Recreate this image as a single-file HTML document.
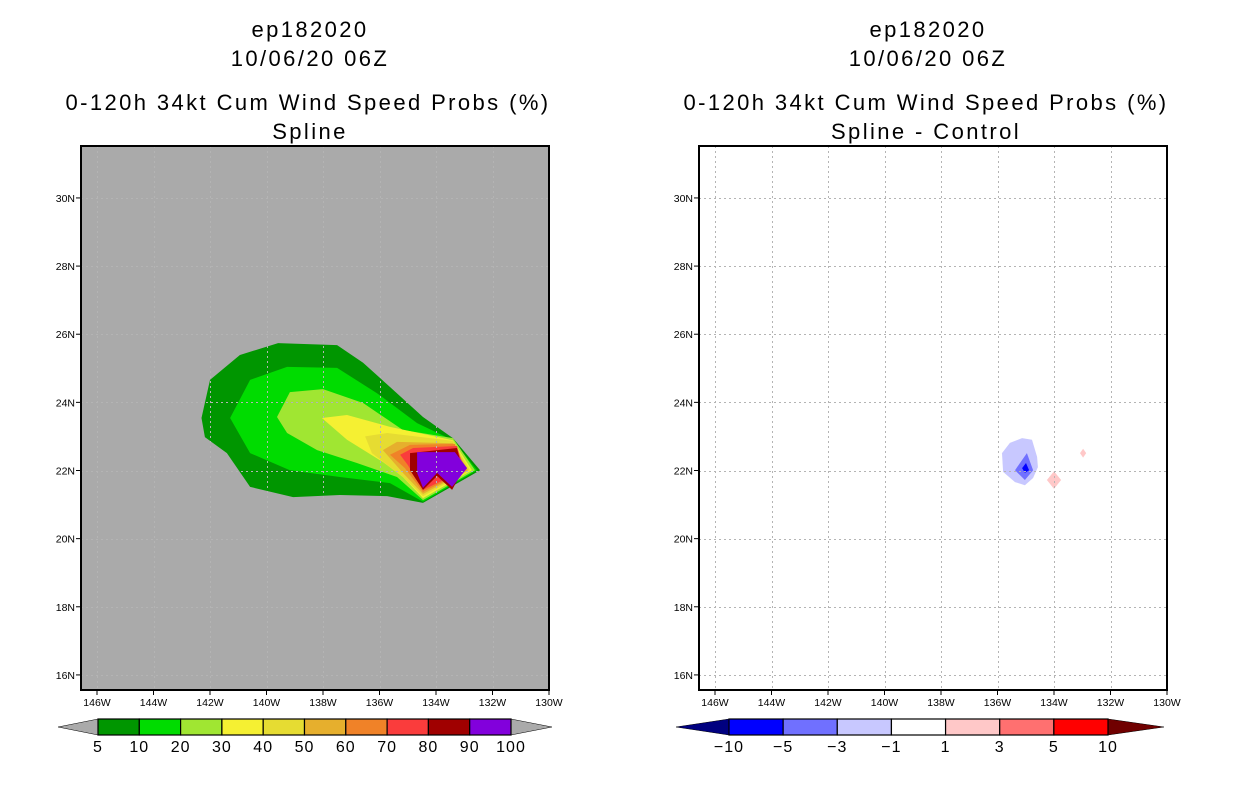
<!DOCTYPE html>
<html><head><meta charset="utf-8">
<style>
html,body{margin:0;padding:0;background:#fff;}
svg{display:block;font-family:"Liberation Sans",sans-serif;}
.t{font-size:22px;text-anchor:middle;fill:#000;letter-spacing:2.4px;}
.tk{font-size:10.5px;fill:#000;}
.cb{font-size:16px;text-anchor:middle;fill:#000;letter-spacing:1px;}
</style></head>
<body>
<svg id="s" width="1236" height="800" viewBox="0 0 1236 800">
<g>
<text class="t" x="310" y="37">ep182020</text>
<text class="t" x="310" y="66">10/06/20 06Z</text>
<text class="t" x="308" y="110">0-120h 34kt Cum Wind Speed Probs (%)</text>
<text class="t" x="310" y="139">Spline</text>
</g>
<g>
<text class="t" x="928" y="37">ep182020</text>
<text class="t" x="928" y="66">10/06/20 06Z</text>
<text class="t" x="926" y="110">0-120h 34kt Cum Wind Speed Probs (%)</text>
<text class="t" x="926" y="139">Spline - Control</text>
</g>
<g id="L"></g>
<g id="R"></g>
<g id="CBL"></g>
<g id="CBR"></g>
</svg>
<script>
const lonTicks=[-146,-144,-142,-140,-138,-136,-134,-132,-130];
const latTicks=[16,18,20,22,24,26,28,30];
const probLevels=[5,10,20,30,40,50,60,70,80,90,100];
const probColors=["#009600","#00dc00","#a0e632","#f5f032","#e6dc32","#e6af2d","#f08228","#fa3c3c","#a00000","#8200dc"];
const diffLevels=[-10,-5,-3,-1,1,3,5,10];
const diffColors=["#000080","#0000ff","#7070ff","#c8c8ff","#ffffff","#ffc8c8","#ff7070","#ff0000","#700000"];
const p5=[[-142.3,23.54],[-142.0,24.66],[-140.94,25.39],[-139.59,25.74],[-137.5,25.68],[-136.58,25.16],[-135.63,24.45],[-134.46,23.57],[-133.4,22.95],[-132.44,22.01],[-134.46,21.05],[-135.73,21.25],[-137.4,21.28],[-139.06,21.22],[-140.58,21.52],[-141.4,22.51],[-142.18,22.98]];
const p10=[[-141.29,23.54],[-140.58,24.66],[-139.27,25.04],[-137.5,25.01],[-136.09,24.27],[-134.67,23.39],[-133.4,22.89],[-132.55,22.01],[-134.46,21.08],[-135.63,21.63],[-137.4,21.81],[-139.17,22.01],[-140.58,22.51]];
const p20=[[-139.63,23.57],[-139.17,24.3],[-138.0,24.39],[-136.58,23.98],[-135.17,23.19],[-133.4,22.95],[-132.62,22.01],[-134.46,21.13],[-135.38,21.81],[-136.8,22.22],[-138.21,22.6],[-139.27,23.1]];
const p30=[[-138.04,23.54],[-137.15,23.63],[-135.63,23.28],[-133.4,22.89],[-132.73,22.01],[-134.46,21.19],[-135.17,21.81],[-135.88,22.25],[-137.15,22.9]];
const p40=[[-136.51,23.0],[-135.73,23.1],[-133.4,22.87],[-132.8,22.01],[-134.46,21.25],[-135.17,21.81],[-136.27,22.51]];
const p50=[[-135.88,22.6],[-135.38,22.84],[-133.4,22.8],[-132.87,22.01],[-134.46,21.31],[-135.17,21.93]];
const p60=[[-135.63,22.46],[-134.92,22.75],[-133.33,22.78],[-132.94,22.01],[-134.46,21.37],[-135.1,22.07]];
const p70=[[-135.27,22.46],[-134.81,22.66],[-133.26,22.72],[-133.01,22.01],[-134.46,21.43],[-135.0,22.16]];
const p80=[[-134.92,22.51],[-133.26,22.66],[-133.05,22.01],[-133.43,21.43],[-133.96,21.84],[-134.46,21.43],[-134.92,22.01]];
const p90=[[-134.67,22.54],[-133.33,22.54],[-132.9,22.07],[-133.43,21.52],[-133.96,21.93],[-134.46,21.49],[-134.67,21.93]];
const probPolys=[p5,p10,p20,p30,p40,p50,p60,p70,p80,p90];
const dNeg1=[[-135.84,22.51],[-135.56,22.81],[-135.13,22.95],[-134.78,22.9],[-134.6,22.4],[-134.57,22.1],[-134.74,21.78],[-135.03,21.57],[-135.38,21.66],[-135.8,21.96]];
const dNeg3=[[-135.38,22.01],[-134.96,22.51],[-134.74,22.01],[-135.03,21.72]];
const dNeg5=[[-135.13,22.07],[-134.99,22.22],[-134.88,22.01],[-135.03,21.93]];
const dPos1a=[[-134.25,21.72],[-134.0,21.98],[-133.75,21.72],[-134.0,21.46]];
const dPos1b=[[-133.08,22.51],[-132.97,22.64],[-132.86,22.51],[-132.97,22.38]];
const NS="http://www.w3.org/2000/svg";
function mk(tag,attrs,parent){const e=document.createElementNS(NS,tag);for(const k in attrs)e.setAttribute(k,attrs[k]);parent.appendChild(e);return e;}
const PX=28.25, PY=34.07;
function xs(x0){return lon=>x0+468-(-130-lon)*PX;}
function ys(lat){return 470.5-(lat-22)*PY;}
function pts(poly,X){return poly.map(p=>X(p[0]).toFixed(1)+','+ys(p[1]).toFixed(1)).join(' ');}
function panel(g,x0,bg,drawData){
  const X=xs(x0);
  const r=mk('rect',{x:x0,y:146,width:468,height:544,fill:bg},g);
  
  
  drawData(X);
  const grid=mk('g',{stroke:'#b4b4b4','stroke-width':1,'stroke-dasharray':'2,3'},g);
  
  
  lonTicks.forEach(l=>{const x=Math.round(X(l))+0.5;if(x>x0+1&&x<x0+467)mk('line',{x1:x,x2:x,y1:146,y2:690},grid);});
  latTicks.forEach(l=>{const y=Math.round(ys(l))+0.5;mk('line',{x1:x0,x2:x0+468,y1:y,y2:y},grid);});
  const fr=mk('rect',{x:x0,y:146,width:468,height:544,fill:'none',stroke:'#000','stroke-width':2},g);
  
  
  lonTicks.forEach(l=>{const x=X(l);
    mk('line',{x1:x,x2:x,y1:690,y2:695,stroke:'#000'},g);
    const t=mk('text',{x:x,y:706,class:'tk','text-anchor':'middle'},g);t.textContent=(-l)+'W';
    
    });
  latTicks.forEach(l=>{const y=ys(l);
    mk('line',{x1:x0-5,x2:x0,y1:y,y2:y,stroke:'#000'},g);
    const t=mk('text',{x:x0-6,y:y+4,class:'tk','text-anchor':'end'},g);t.textContent=l+'N';
    
    });
}
panel(document.getElementById('L'),81,'#aaaaaa',X=>{
  const g=document.getElementById('L');
  probPolys.forEach((p,i)=>{const e=mk('polygon',{points:pts(p,X),fill:probColors[i]},g);
    
    });
});
panel(document.getElementById('R'),699,'#ffffff',X=>{
  const g=document.getElementById('R');
  [[dNeg1,3],[dNeg3,2],[dNeg5,1],[dPos1a,5],[dPos1b,5]].forEach(([p,c])=>{const e=mk('polygon',{points:pts(p,X),fill:diffColors[c]},g);
    
    });
});
function colorbar(g,x1,x2,t1,t2,colors,labels,triL,triR,inner){
  const segs=inner;
  const w=(x2-x1)/segs.length;
  const y1=719,y2=735,ym=727;
  const a=mk('polygon',{points:`${t1},${ym} ${x1},${y1} ${x1},${y2}`,fill:triL,stroke:'#000','stroke-width':0.5},g);
  
  
  const b=mk('polygon',{points:`${t2},${ym} ${x2},${y1} ${x2},${y2}`,fill:triR,stroke:'#000','stroke-width':0.5},g);
  
  
  segs.forEach((c,i)=>{const r=mk('rect',{x:x1+i*w,y:y1,width:w,height:y2-y1,fill:c,stroke:'#000','stroke-width':1.2},g);
    
    });
  labels.forEach((l,i)=>{const t=mk('text',{x:x1+i*w,y:752,class:'cb'},g);t.textContent=String(l).replace('-','\u2212');
    
    });
}
colorbar(document.getElementById('CBL'),98,511,58,552,null,probLevels,'#aaaaaa','#aaaaaa',probColors);
colorbar(document.getElementById('CBR'),729,1108,676,1164,null,diffLevels,diffColors[0],diffColors[8],diffColors.slice(1,8));
</script>
</body></html>
